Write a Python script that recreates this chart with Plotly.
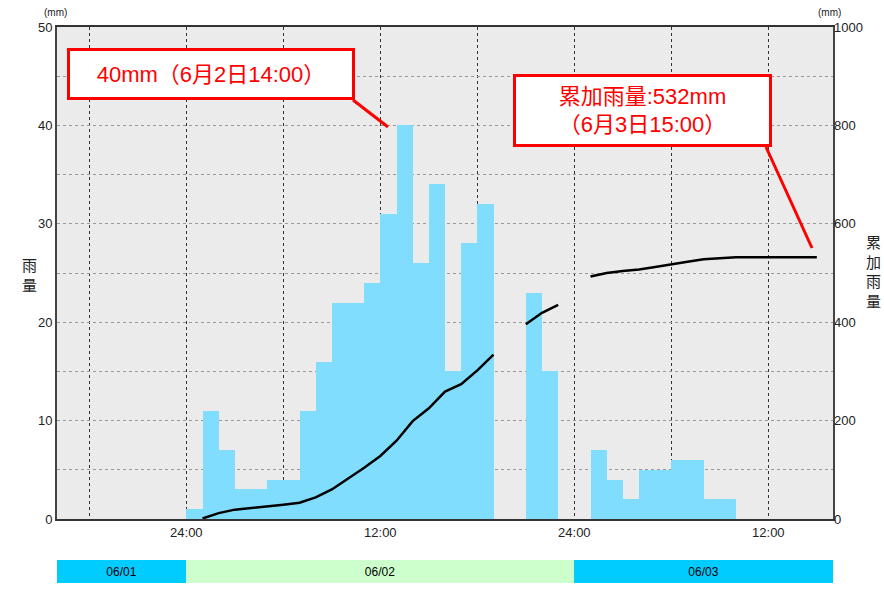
import plotly.graph_objects as go

# ---------------- data ----------------
# hourly rainfall (mm); bar i covers hour i..i+1, hour 0 = 6/2 00:00
rain_hours = list(range(0, 34))
rain_mm = [1, 11, 7, 3, 3, 4, 4, 11, 16, 22, 22, 24, 31, 40, 26, 34, 15, 28, 32,
           None, None, 23, 15, None, None, 7, 4, 2, 5, 5, 6, 6, 2, 2]

# cumulative rainfall (mm), at end of hour
cum_hours = [1, 2, 3, 4, 5, 6, 7, 8, 9, 10, 11, 12, 13, 14, 15, 16, 17, 18, 19,
             20, 21, 22, 23, 24,
             25, 26, 27, 28, 29, 30, 31, 32, 33, 34, 35, 36, 37, 38, 39]
cum_mm = [1, 12, 19, 22, 25, 29, 33, 44, 60, 82, 104, 128, 159, 199, 225, 259, 274, 302, 334,
          None, 396, 419, 435, None,
          493, 500, 504, 507, 512, 518, 523, 528, 530, 532, 532, 532, 532, 532, 532]

x_tickvals = [-6, 0, 6, 12, 18, 24, 30, 36]
x_ticktext = ["", "24:00", "", "12:00", "", "24:00", "", "12:00"]
y_tickvals = [0, 5, 10, 15, 20, 25, 30, 35, 40, 45, 50]
y_ticktext = ["0", "", "10", "", "20", "", "30", "", "40", "", "50"]
y2_tickvals = [0, 200, 400, 600, 800, 1000]

date_labels = ["06/01", "06/02", "06/03"]
date_start = [-8, 0, 24]
date_end = [0, 24, 40]
date_colors = ["#00CCFF", "#CCFFCC", "#00CCFF"]

peak_text = "40mm（6月2日14:00）"
total_text = "累加雨量:532mm<br>（6月3日15:00）"

# ---------------- layout geometry ----------------
W, H = 884, 592
L, R, T, B = 57, 51, 27, 9
plot_w = W - L - R
plot_h = H - T - B
main_bottom_px = 519
band_top_px, band_bot_px = 560, 583


def py(ypix):
    return (H - B - ypix) / plot_h


def px(xpix):
    return (xpix - L) / plot_w


main_dom = [py(main_bottom_px), 1]
band_dom = [py(band_bot_px), py(band_top_px)]

fig = go.Figure()

fig.add_trace(go.Bar(
    x=[h + 0.5 for h in rain_hours], y=rain_mm, width=1,
    marker=dict(color="#80DDFD", line=dict(width=0)),
    xaxis="x", yaxis="y", showlegend=False,
))

fig.add_trace(go.Scatter(
    x=cum_hours, y=cum_mm, mode="lines", connectgaps=False,
    line=dict(color="black", width=2.5),
    xaxis="x", yaxis="y2", showlegend=False,
))

fig.add_trace(go.Bar(
    x=[e - s for s, e in zip(date_start, date_end)], base=date_start,
    y=[0, 0, 0], width=1, orientation="h",
    marker=dict(color=date_colors, line=dict(width=0)),
    text=date_labels, textposition="inside", insidetextanchor="middle",
    textfont=dict(size=12, color="black", family="Liberation Sans"),
    constraintext="none",
    xaxis="x2", yaxis="y3", showlegend=False,
))

tickfont = dict(family="Liberation Sans", size=13, color="#222")

fig.update_layout(
    width=W, height=H, autosize=False,
    margin=dict(l=L, r=R, t=T, b=B, autoexpand=False),
    paper_bgcolor="white",
    plot_bgcolor="#EBEBEB",
    bargap=0,
    barmode="overlay",
    xaxis=dict(
        domain=[0, 1], anchor="y", range=[-8, 40], automargin=False,
        tickmode="array", tickvals=x_tickvals, ticktext=x_ticktext,
        showgrid=True, gridcolor="#333", griddash="dot", gridwidth=1,
        showline=True, linecolor="#333", linewidth=2, mirror=True,
        ticks="", zeroline=False, tickfont=tickfont,
    ),
    yaxis=dict(
        domain=main_dom, range=[0, 50], automargin=False,
        tickmode="array", tickvals=y_tickvals, ticktext=y_ticktext,
        showgrid=True, gridcolor="#999", griddash="dot", gridwidth=1,
        showline=True, linecolor="#444", linewidth=2, mirror=True,
        ticks="", zeroline=False, tickfont=tickfont,
    ),
    yaxis2=dict(
        overlaying="y", side="right", anchor="x", range=[0, 1000],
        automargin=False,
        tickmode="array", tickvals=y2_tickvals,
        showgrid=False, showline=False, ticks="", zeroline=False,
        tickfont=tickfont,
    ),
    xaxis2=dict(domain=[0, 1], anchor="y3", matches="x", visible=False,
                automargin=False, range=[-8, 40]),
    yaxis3=dict(domain=band_dom, range=[-0.5, 0.5], visible=False,
                automargin=False),
)

cjk = "Liberation Sans, Noto Sans CJK JP"
ann = []
ann.append(dict(text="(mm)", x=px(55), y=py(13), xref="paper", yref="paper",
                xanchor="center", yanchor="middle",
                showarrow=False, font=dict(size=10, color="#222",
                                           family="Liberation Sans")))
ann.append(dict(text="(mm)", x=px(829), y=py(13), xref="paper", yref="paper",
                xanchor="center", yanchor="middle",
                showarrow=False, font=dict(size=10, color="#222",
                                           family="Liberation Sans")))
ann.append(dict(text="雨<br>量", x=px(29), y=py(274), xref="paper", yref="paper",
                xanchor="center", yanchor="middle", showarrow=False,
                font=dict(size=15, color="#222", family="Noto Sans CJK JP")))
ann.append(dict(text="累<br>加<br>雨<br>量", x=px(873), y=py(271),
                xref="paper", yref="paper", xanchor="center", yanchor="middle",
                showarrow=False,
                font=dict(size=15, color="#222", family="Noto Sans CJK JP")))
ann.append(dict(text=peak_text, x=px(211), y=py(74), xref="paper", yref="paper",
                xanchor="center", yanchor="middle",
                showarrow=False, width=282, height=46, borderpad=0,
                bgcolor="white", bordercolor="red", borderwidth=3,
                font=dict(size=22, color="red", family=cjk)))
ann.append(dict(text=total_text, x=px(642.5), y=py(110.5), xref="paper",
                yref="paper", xanchor="center", yanchor="middle",
                showarrow=False, width=253, height=67,
                borderpad=0, bgcolor="white", bordercolor="red", borderwidth=3,
                font=dict(size=22, color="red", family=cjk)))
fig.update_layout(annotations=ann)

fig.add_shape(type="line", xref="paper", yref="paper",
              x0=px(353), y0=py(100), x1=px(388), y1=py(127),
              line=dict(color="red", width=3))
fig.add_shape(type="line", xref="paper", yref="paper",
              x0=px(766), y0=py(147), x1=px(812), y1=py(248),
              line=dict(color="red", width=3))

fig.write_html("out.html",
               config={"displayModeBar": False, "responsive": False},
               post_script="document.body.style.margin='0px';"
                           "document.body.style.padding='0px';")
